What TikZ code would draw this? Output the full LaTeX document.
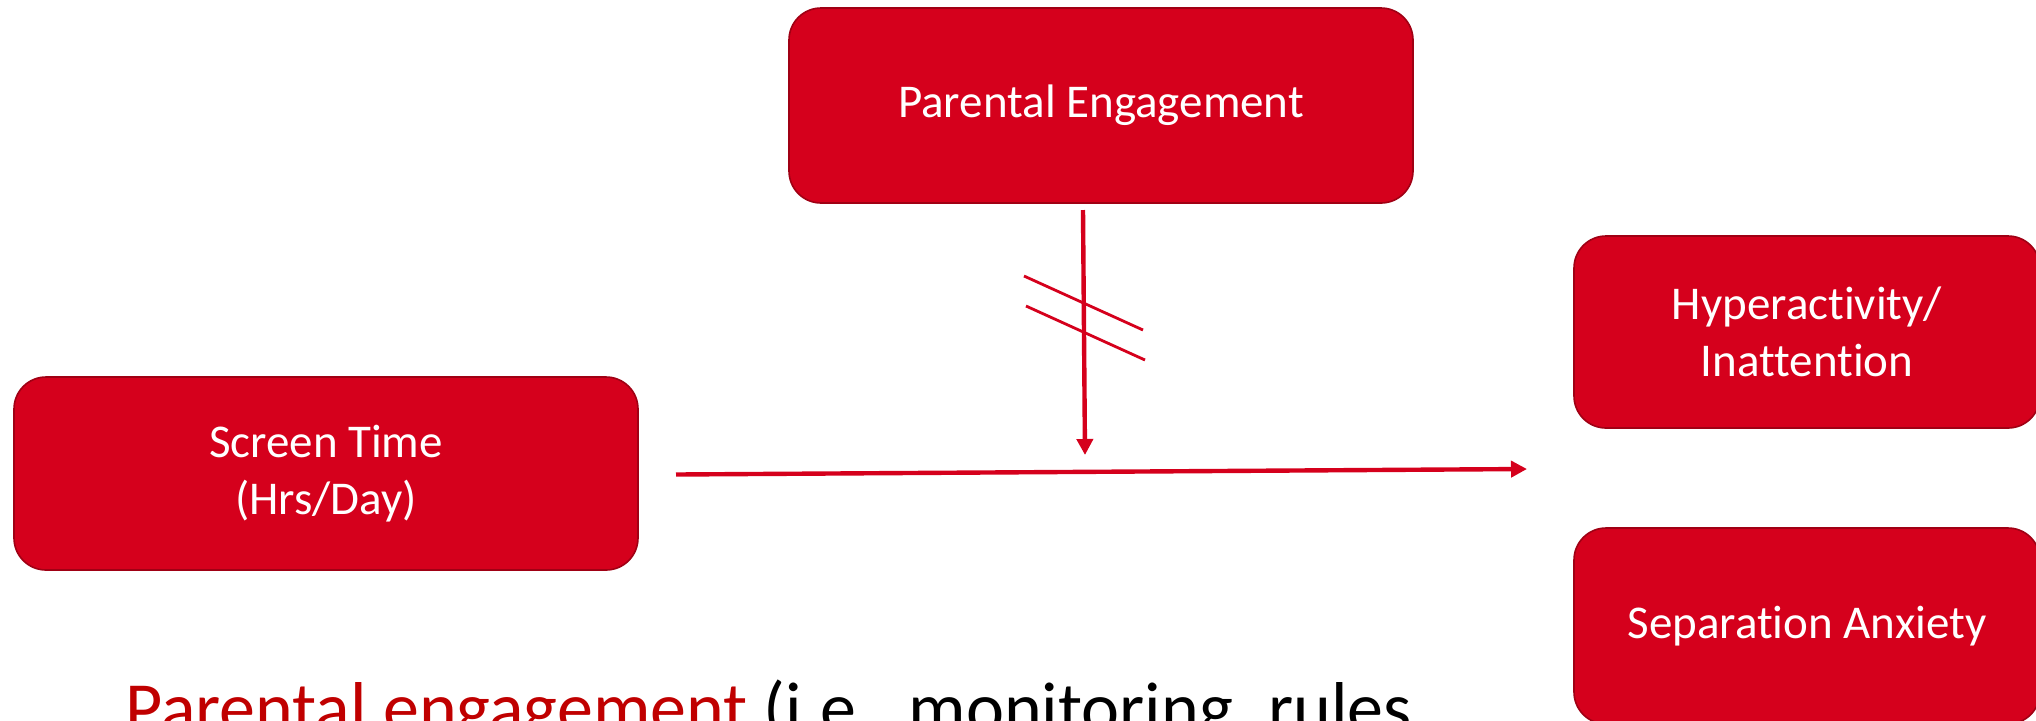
\documentclass[tikz,border=0pt]{standalone}
\usepackage{fontspec}
\setmainfont{Carlito}[Ligatures=NoCommon]
\usetikzlibrary{arrows.meta}
\definecolor{boxred}{RGB}{213,0,28}
\definecolor{boxedge}{RGB}{160,0,20}
\definecolor{notered}{RGB}{192,0,0}
\begin{document}
\begin{tikzpicture}[x=0.5pt,y=-0.5pt,
  varbox/.style={draw=boxedge, line width=0.8pt, fill=boxred, rounded corners=16pt,
    text=white, align=center, inner sep=0pt, font=\fontsize{23.5}{28.2}\selectfont},
  arr/.style={draw=boxred, line width=2.2pt, -{Triangle[length=8pt,width=8pt]}},
  slash/.style={draw=boxred, line width=1.4pt}]
\useasboundingbox (0,0) rectangle (2036,720);
\clip (0,0) rectangle (2036,720);

% variables
\node[varbox, minimum width=312pt, minimum height=97.5pt] (pe) at (1101,105.5) {Parental Engagement};
\node[varbox, minimum width=312pt, minimum height=96.5pt] (st) at (326,473.5) {Screen Time\\(Hrs/Day)};
\node[varbox, minimum width=233pt, minimum height=96pt] (hyp) at (1807,332) {Hyperactivity/\\Inattention};
\node[varbox, minimum width=233pt, minimum height=98pt] (sep) at (1807,626) {Separation Anxiety};

% moderation path
\coordinate (v0) at (1083,210);
\coordinate (v1) at (1085,455);
\coordinate (h0) at (676,474.5);
\coordinate (h1) at (1527,469);
\draw[arr] (v0) -- (v1);
\draw[arr] (h0) -- (h1);

% "not" strokes across the moderator arrow
\coordinate (s1a) at (1024,276);
\coordinate (s1b) at (1143,330);
\coordinate (s2a) at (1026,306);
\coordinate (s2b) at (1145,360);
\draw[slash] (s1a) -- (s1b);
\draw[slash] (s2a) -- (s2b);

% caption line
\node[anchor=base west, inner sep=0pt, font=\fontsize{36}{43}\selectfont] (note) at (125,732)
  {\textcolor{notered}{Parental engagement} (i.e., monitoring, rules};
\end{tikzpicture}
\end{document}
